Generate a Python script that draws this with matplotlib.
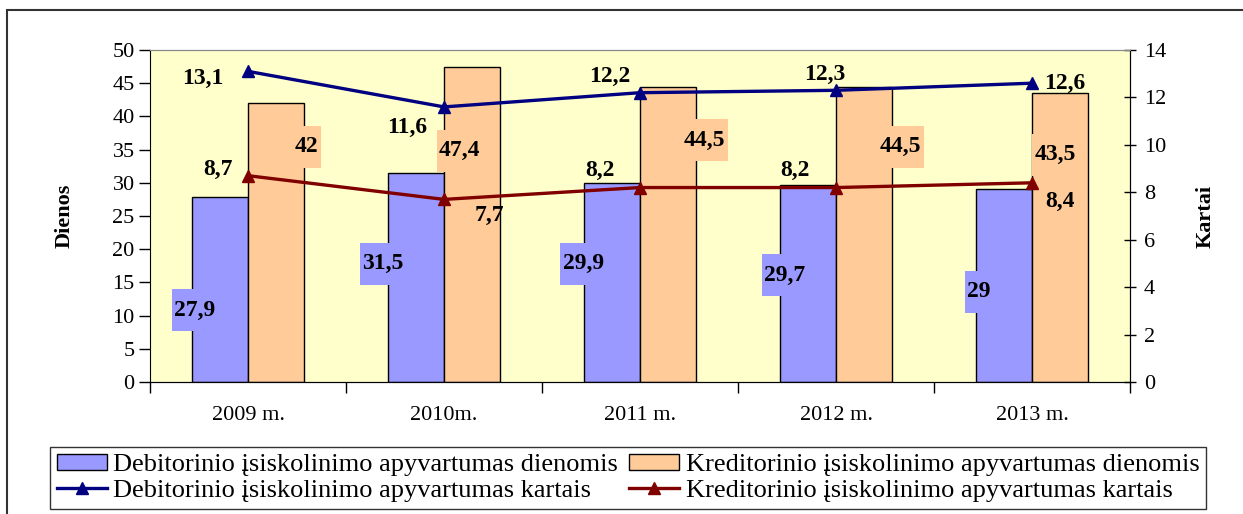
import numpy as np
import matplotlib
matplotlib.use("Agg")
import matplotlib.pyplot as plt
from matplotlib.path import Path
from matplotlib.patches import Rectangle

plt.rcParams['font.family'] = ['Liberation Serif', 'DejaVu Serif']

years = ['2009 m.', '2010m.', '2011 m.', '2012 m.', '2013 m.']
deb_dienos = [27.9, 31.5, 29.9, 29.7, 29.0]
kred_dienos = [42.0, 47.4, 44.5, 44.5, 43.5]
deb_kartai = [13.1, 11.6, 12.2, 12.3, 12.6]
kred_kartai = [8.7, 7.7, 8.2, 8.2, 8.4]

# label placement (layout only)
deb_lab_dx = [-0.27, -0.31, -0.29, -0.26, -0.27]
deb_lab_y = [10.8, 17.8, 17.8, 16.1, 13.6]
kred_lab_dx = [0.30, 0.08, 0.33, 0.33, 0.12]
kred_lab_y = [35.4, 34.8, 36.4, 35.4, 34.2]
deb_k_off = [(-45, -7), (-37, -21), (-30, 16), (-11, 16), (33, 0)]
kred_k_off = [(-30, 6), (45, -16), (-40, 17), (-41, 17), (28, -19)]


def fmt(v):
    s = ('%.1f' % v).rstrip('0').rstrip('.')
    return s.replace('.', ',')


def label_box(x0, y0, width, height, mutation_size):
    px = 0.1 * mutation_size
    py = 0.45 * mutation_size
    x0, y0 = x0 - px, y0 - py
    x1, y1 = x0 + width + 2 * px, y0 + height + 2 * py
    return Path([(x0, y0), (x1, y0), (x1, y1), (x0, y1), (x0, y0)], closed=True)


fig = plt.figure(figsize=(12.43, 5.14), dpi=100)
fig.patches.append(Rectangle((7 / 1243, -0.1), 1.2, 1 - 10 / 514 + 0.1, transform=fig.transFigure,
                             fill=False, edgecolor='#333333', lw=1.5))

ax = fig.add_axes([150 / 1243, 1 - 382 / 514, 980 / 1243, 332 / 514])
ax.set_facecolor('#FFFFCC')
x = np.arange(len(years))
w = 0.286
b1 = ax.bar(x - w / 2, deb_dienos, w, color='#9999FF', edgecolor='black', lw=1, zorder=2)
b2 = ax.bar(x + w / 2, kred_dienos, w, color='#FFCC99', edgecolor='black', lw=1, zorder=2)
ax.set_xlim(-0.5, 4.5)
ax.set_ylim(0, 50)
ax.set_yticks(np.arange(0, 51, 5))
ax.set_xticks(x)
ax.set_xticklabels(years, fontsize=16)
ax.set_xticks(np.arange(-0.5, 4.6, 1), minor=True)
ax.tick_params(axis='x', which='major', length=0, pad=17)
ax.tick_params(axis='x', which='minor', length=8, width=1, direction='out')
ax.tick_params(axis='y', labelsize=16, length=8, width=1, direction='out', pad=3)
ax.spines['top'].set_color('#888888')
ax.set_ylabel('Dienos', fontsize=16, fontweight='bold')
ax.yaxis.set_label_coords(-0.0765, 0.5)

ax2 = ax.twinx()
ax2.set_ylim(0, 14)
ax2.set_yticks(np.arange(0, 15, 2))
ax2.tick_params(axis='y', labelsize=16, length=8, width=1, direction='inout', pad=6)
ax2.spines['top'].set_color('#888888')
ax2.spines['left'].set_visible(False)
l1, = ax2.plot(x, deb_kartai, color='#000080', lw=2.4, marker='^', ms=8, zorder=3)
l2, = ax2.plot(x, kred_kartai, color='#800000', lw=2.4, marker='^', ms=8, zorder=3)
ax2.set_ylabel('Kartai', fontsize=16, fontweight='bold', rotation=90)
ax2.yaxis.set_label_coords(1.067, 0.5)

for i in range(len(years)):
    ax2.text(i + deb_lab_dx[i], deb_lab_y[i] * 14 / 50, fmt(deb_dienos[i]), fontsize=17,
             fontweight='bold', ha='center', va='center', zorder=5,
             bbox=dict(boxstyle=label_box, facecolor='#9999FF', edgecolor='none'))
    ax2.text(i + kred_lab_dx[i], kred_lab_y[i] * 14 / 50, fmt(kred_dienos[i]), fontsize=17,
             fontweight='bold', ha='center', va='center', zorder=5,
             bbox=dict(boxstyle=label_box, facecolor='#FFCC99', edgecolor='none'))
    ax2.annotate(fmt(deb_kartai[i]), (i, deb_kartai[i]), xytext=deb_k_off[i],
                 textcoords='offset pixels', fontsize=17, fontweight='bold',
                 ha='center', va='center', zorder=5)
    ax2.annotate(fmt(kred_kartai[i]), (i, kred_kartai[i]), xytext=kred_k_off[i],
                 textcoords='offset pixels', fontsize=17, fontweight='bold',
                 ha='center', va='center', zorder=5)

leg = fig.legend([b1, l1, b2, l2],
                 ['Debitorinio įsiskolinimo apyvartumas dienomis',
                  'Debitorinio įsiskolinimo apyvartumas kartais',
                  'Kreditorinio įsiskolinimo apyvartumas dienomis',
                  'Kreditorinio įsiskolinimo apyvartumas kartais'],
                 ncol=2, loc='center', bbox_to_anchor=(628 / 1243, 1 - 478 / 514), fontsize=19,
                 frameon=True, fancybox=False, edgecolor='#333333', framealpha=1,
                 handlelength=1.9, handleheight=0.6, handletextpad=0.25, columnspacing=0.4,
                 labelspacing=0.12, borderpad=0.25, borderaxespad=0)
leg.get_frame().set_linewidth(1)

fig.savefig('out.png', dpi=100)
